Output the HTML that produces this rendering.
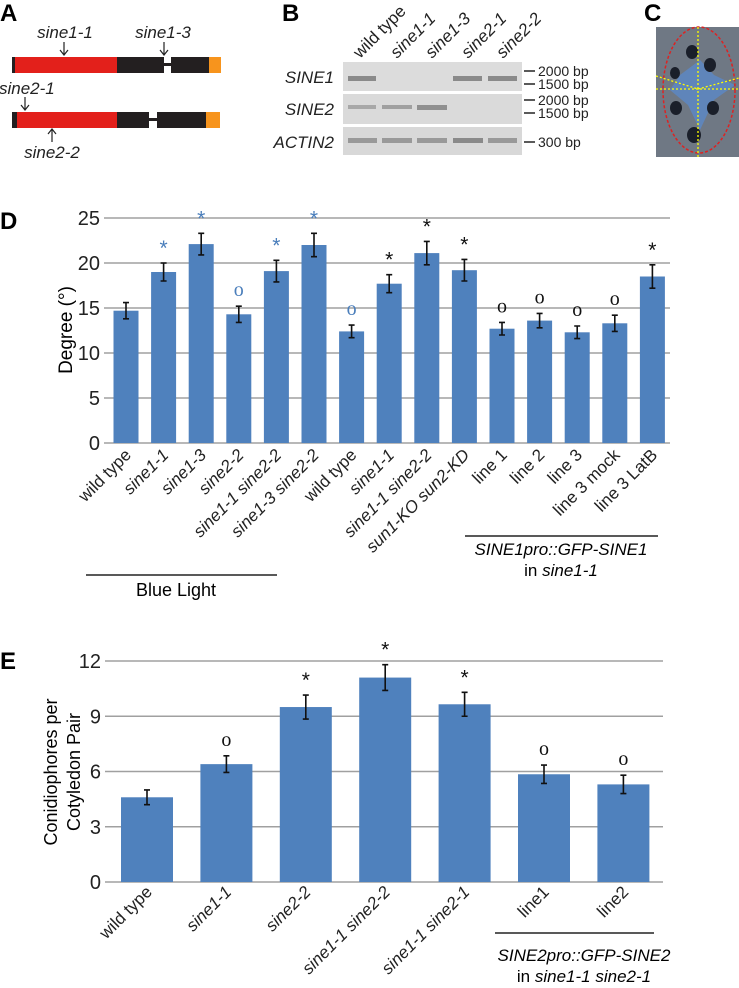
<!DOCTYPE html>
<html><head><meta charset="utf-8"><style>
html,body{margin:0;padding:0;background:#fff;}
svg{display:block;font-family:"Liberation Sans",Arial,sans-serif;}
</style></head><body>
<svg id="fig" width="739" height="988" viewBox="0 0 739 988" xmlns="http://www.w3.org/2000/svg">
<!-- Panel A -->
<g>
<text x="0" y="21" font-size="24" font-weight="bold">A</text>
<g>
<rect x="12" y="57" width="3" height="16" fill="#231f20"/>
<rect x="15" y="57" width="102" height="16" fill="#e3201b"/>
<rect x="117" y="57" width="47" height="16" fill="#231f20"/>
<rect x="164" y="63" width="7" height="3" fill="#231f20"/>
<rect x="171" y="57" width="38" height="16" fill="#231f20"/>
<rect x="209" y="57" width="12" height="16" fill="#f7941d"/>
</g>
<g>
<rect x="12" y="112" width="5" height="16" fill="#231f20"/>
<rect x="17" y="112" width="100" height="16" fill="#e3201b"/>
<rect x="117" y="112" width="32" height="16" fill="#231f20"/>
<rect x="149" y="118" width="8" height="3" fill="#231f20"/>
<rect x="157" y="112" width="49" height="16" fill="#231f20"/>
<rect x="206" y="112" width="14" height="16" fill="#f7941d"/>
</g>
<g font-size="17" fill="#222">
<text x="65" y="38" text-anchor="middle" font-style="italic">sine1-1</text>
<text x="163" y="38" text-anchor="middle" font-style="italic">sine1-3</text>
<text x="-1" y="94" font-style="italic">sine2-1</text>
<text x="52" y="158" text-anchor="middle" font-style="italic">sine2-2</text>
</g>
<g stroke="#222" stroke-width="1.2" fill="#222">
<line x1="64" y1="42" x2="64" y2="54"/><path d="M60,50 L64,55 L68,50" fill="none"/>
<line x1="164" y1="42" x2="164" y2="54"/><path d="M160,50 L164,55 L168,50" fill="none"/>
<line x1="25" y1="97" x2="25" y2="109"/><path d="M21,105 L25,110 L29,105" fill="none"/>
<line x1="52" y1="130" x2="52" y2="142"/><path d="M48,134 L52,129 L56,134" fill="none"/>
</g>
</g>
<!-- Panel B -->
<g>
<text x="282" y="21" font-size="24" font-weight="bold">B</text>
<g font-size="17" fill="#222">
<text transform="translate(360,59) rotate(-45)">wild type</text>
<text transform="translate(397,59) rotate(-45)" font-style="italic">sine1-1</text>
<text transform="translate(432,59) rotate(-45)" font-style="italic">sine1-3</text>
<text transform="translate(468,59) rotate(-45)" font-style="italic">sine2-1</text>
<text transform="translate(503,59) rotate(-45)" font-style="italic">sine2-2</text>
</g>
<rect x="343" y="62" width="179" height="29" fill="#dcdcdc"/>
<rect x="343" y="94" width="179" height="30" fill="#dadada"/>
<rect x="343" y="127" width="179" height="28" fill="#d8d8d8"/>
<g fill="#8a8a8a">
<rect x="348" y="76" width="28" height="5"/><rect x="453" y="76" width="29" height="5"/><rect x="488" y="76" width="29" height="5"/>
<rect x="348" y="105" width="28" height="4" fill="#a8a8a8"/><rect x="382" y="105" width="30" height="4" fill="#a0a0a0"/><rect x="417" y="105" width="30" height="5" fill="#909090"/>
<rect x="348" y="138" width="29" height="5" fill="#999"/><rect x="382" y="138" width="30" height="5" fill="#999"/><rect x="417" y="138" width="30" height="5" fill="#999"/><rect x="453" y="138" width="30" height="5" fill="#8a8a8a"/><rect x="488" y="138" width="29" height="5" fill="#999"/>
</g>
<g font-size="17" font-style="italic" fill="#222" text-anchor="end">
<text x="334" y="83">SINE1</text>
<text x="334" y="115">SINE2</text>
<text x="334" y="148">ACTIN2</text>
</g>
<g stroke="#222" stroke-width="1.5"><line x1="524" y1="71" x2="535" y2="71"/><line x1="524" y1="84" x2="535" y2="84"/><line x1="524" y1="100" x2="535" y2="100"/><line x1="524" y1="113" x2="535" y2="113"/><line x1="524" y1="142" x2="535" y2="142"/></g>
<g font-size="14" fill="#222">
<text x="538" y="76">2000 bp</text>
<text x="538" y="89">1500 bp</text>
<text x="538" y="105">2000 bp</text>
<text x="538" y="118">1500 bp</text>
<text x="538" y="147">300 bp</text>
</g>
</g>
<!-- Panel C -->
<g>
<text x="644" y="21" font-size="24" font-weight="bold">C</text>
<rect x="656" y="27" width="83" height="130" fill="#6f7884"/>
<path d="M680,75 L700,60 L714,75 L735,85 L714,100 L700,130 L688,105 L670,90 Z" fill="#5b88c8" opacity="0.8"/>
<g fill="#1a1f2a"><ellipse cx="692" cy="52" rx="6" ry="7"/><ellipse cx="710" cy="65" rx="6" ry="7"/><ellipse cx="675" cy="73" rx="5" ry="6"/><ellipse cx="676" cy="108" rx="6" ry="7"/><ellipse cx="713" cy="108" rx="6" ry="7"/><ellipse cx="694" cy="135" rx="7" ry="8"/></g>
<ellipse cx="699" cy="90" rx="36" ry="63" fill="none" stroke="#d22" stroke-width="1.5" stroke-dasharray="3,2"/>
<g stroke="#ff0" stroke-width="1.3" stroke-dasharray="2,2" fill="none"><line x1="698" y1="27" x2="698" y2="157"/><line x1="656" y1="89" x2="739" y2="89"/><line x1="656" y1="76" x2="698" y2="89"/><line x1="698" y1="89" x2="739" y2="78"/></g>
</g>
<!-- Panel D -->
<g id="chartD">
<text x="0" y="229" font-size="24" font-weight="bold">D</text>
<text transform="translate(72,330) rotate(-90)" text-anchor="middle" font-size="19">Degree (°)</text>
<line x1="86" y1="575" x2="277" y2="575" stroke="#222" stroke-width="1.5"/>
<text x="176" y="596" text-anchor="middle" font-size="18">Blue Light</text>
<line x1="465" y1="536" x2="658" y2="536" stroke="#222" stroke-width="1.5"/>
<text x="561" y="555" text-anchor="middle" font-size="17" font-style="italic">SINE1pro::GFP-SINE1</text>
<text x="561" y="576" text-anchor="middle" font-size="17">in <tspan font-style="italic">sine1-1</tspan></text>
</g>
<!-- Panel E -->
<g id="chartE">
<text x="0" y="669" font-size="24" font-weight="bold">E</text>
<text transform="translate(57,772) rotate(-90)" text-anchor="middle" font-size="18">Conidiophores per</text>
<text transform="translate(80,772) rotate(-90)" text-anchor="middle" font-size="18">Cotyledon Pair</text>
<line x1="495" y1="933" x2="654" y2="933" stroke="#222" stroke-width="1.5"/>
<text x="584" y="961" text-anchor="middle" font-size="17" font-style="italic">SINE2pro::GFP-SINE2</text>
<text x="584" y="982" text-anchor="middle" font-size="17">in <tspan font-style="italic">sine1-1 sine2-1</tspan></text>
</g>
</svg>
<script>
const dCategories = ["wild type","sine1-1","sine1-3","sine2-2","sine1-1 sine2-2","sine1-3 sine2-2","wild type","sine1-1","sine1-1 sine2-2","sun1-KO sun2-KD","line 1","line 2","line 3","line 3 mock","line 3 LatB"];
const dItalic = [0,1,1,1,1,1,0,1,1,1,0,0,0,0,0];
const dValues = [14.7,19.0,22.1,14.3,19.1,22.0,12.4,17.7,21.1,19.2,12.7,13.6,12.3,13.3,18.5];
const dErrors = [0.9,1.0,1.2,0.9,1.2,1.3,0.7,1.0,1.3,1.2,0.7,0.8,0.7,0.9,1.3];
const dMarks = ["","*","*","o","*","*","o","*","*","*","o","o","o","o","*"];
const dMarkBlue = [0,1,1,1,1,1,1,0,0,0,0,0,0,0,0];
const dTicks = [0,5,10,15,20,25];

const eCategories = ["wild type","sine1-1","sine2-2","sine1-1 sine2-2","sine1-1 sine2-1","line1","line2"];
const eItalic = [0,1,1,1,1,0,0];
const eValues = [4.6,6.4,9.5,11.1,9.65,5.85,5.3];
const eErrors = [0.4,0.45,0.65,0.7,0.65,0.5,0.5];
const eMarks = ["","o","*","*","*","o","o"];
const eTicks = [0,3,6,9,12];

const NS="http://www.w3.org/2000/svg";
function mk(parent,tag,attrs){const e=document.createElementNS(NS,tag);for(const k in attrs)e.setAttribute(k,attrs[k]);parent.appendChild(e);return e;}

function drawChart(cfg){
  const g=document.getElementById(cfg.id);
  const y=v=>cfg.y0-(v-0)/(cfg.ymax)*(cfg.y0-cfg.ytop);
  const x=i=>cfg.xFirst+i*cfg.step;
  cfg.ticks.forEach(t=>{
    const ln=mk(g,'line',{x1:cfg.xl,x2:cfg.xr,y1:y(t),y2:y(t),stroke:'#a0a0a0','stroke-width':1.6});
    
    
    const tx=mk(g,'text',{x:cfg.xl-4,y:y(t)+7,'text-anchor':'end','font-size':cfg.tickSize,fill:'#222'});
    tx.textContent=t;
    
    
  });
  cfg.vals.forEach((v,i)=>{
    const cx=x(i);
    const r=mk(g,'rect',{x:cx-cfg.bw/2,y:y(v),width:cfg.bw,height:cfg.y0-y(v),fill:'#4f81bd'});
    
    
    const e=cfg.errs[i];
    const eb=mk(g,'path',{d:`M${cx},${y(v+e)}V${y(v-e)}M${cx-3},${y(v+e)}H${cx+3}M${cx-3},${y(v-e)}H${cx+3}`,stroke:'#111','stroke-width':1.6,fill:'none'});
    
    
    if(cfg.marks[i]){
      const m=cfg.marks[i];
      const col=cfg.blue&&cfg.blue[i]?'#4a7ebb':'#111';
      const t=mk(g,'text',{x:cx,y:y(v+e)-(m==='*'?8:10),'text-anchor':'middle','font-size':m==='*'?21:20,fill:col,'font-family':m==='o'?'"Liberation Serif",serif':'"Liberation Sans",sans-serif'});
      t.textContent=m;
      
      
    }
    const lb=mk(g,'text',{transform:`translate(${cx+6},${cfg.labelY}) rotate(-45)`,'text-anchor':'end','font-size':cfg.labelSize,fill:'#222'});
    if(cfg.italic[i])lb.setAttribute('font-style','italic');
    lb.textContent=cfg.cats[i];
    
    
  });
}
drawChart({id:'chartD',cats:dCategories,italic:dItalic,vals:dValues,errs:dErrors,marks:dMarks,blue:dMarkBlue,ticks:dTicks,
  y0:443,ytop:218,ymax:25,xl:104,xr:670,xFirst:126,step:37.6,bw:25,tickSize:20,labelY:456,labelSize:17});
drawChart({id:'chartE',cats:eCategories,italic:eItalic,vals:eValues,errs:eErrors,marks:eMarks,blue:null,ticks:eTicks,
  y0:882,ytop:661,ymax:12,xl:105,xr:663,xFirst:147,step:79.4,bw:52,tickSize:20,labelY:893,labelSize:17});
</script>
</body></html>
